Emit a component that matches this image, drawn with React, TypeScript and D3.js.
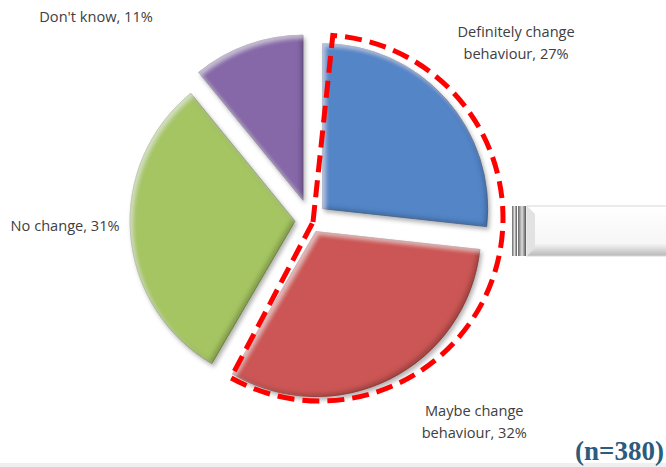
import * as d3 from "d3";
import { useEffect, useRef } from "react";

const categories = [
  "Definitely change behaviour",
  "Maybe change behaviour",
  "No change",
  "Don't know",
];
const shares = [27, 32, 31, 11];
const colors = ["#5385C7", "#CB5654", "#A5C462", "#8667A9"];
const sampleNote = "(n=380)";

interface Slice {
  label: string;
  value: number;
  color: string;
}

const App = () => {
  const ref = useRef<SVGSVGElement | null>(null);

  useEffect(() => {
    const svg = d3.select(ref.current);
    svg.selectAll("*").remove();

    const width = 666,
      height = 467;
    const cx = 310,
      cy = 220,
      radius = 165;
    // how far each slice is pulled out, and where its label sits (deg, distance)
    const explode = [17, 13, 15, 21];
    const labelPos: [number, number][] = [
      [49.5, 271],
      [141, 261],
      [268.3, 245],
      [313.3, 294],
    ];
    const lineGap = 22;

    const data: Slice[] = categories.map((c, i) => ({
      label: c,
      value: shares[i],
      color: colors[i],
    }));

    const defs = svg.append("defs");
    const f = defs
      .append("filter")
      .attr("id", "bevel")
      .attr("x", "-20%")
      .attr("y", "-20%")
      .attr("width", "140%")
      .attr("height", "140%");
    f.append("feGaussianBlur").attr("in", "SourceAlpha").attr("stdDeviation", 2).attr("result", "blur");
    f.append("feOffset").attr("in", "blur").attr("dx", -3).attr("dy", -3).attr("result", "offD");
    f.append("feComposite").attr("in", "SourceAlpha").attr("in2", "offD").attr("operator", "out").attr("result", "edgeD");
    f.append("feFlood").attr("flood-color", "#000").attr("flood-opacity", 0.4);
    f.append("feComposite").attr("in2", "edgeD").attr("operator", "in").attr("result", "shadeD");
    f.append("feOffset").attr("in", "blur").attr("dx", 3).attr("dy", 3).attr("result", "offL");
    f.append("feComposite").attr("in", "SourceAlpha").attr("in2", "offL").attr("operator", "out").attr("result", "edgeL");
    f.append("feFlood").attr("flood-color", "#fff").attr("flood-opacity", 0.45);
    f.append("feComposite").attr("in2", "edgeL").attr("operator", "in").attr("result", "shadeL");
    f.append("feGaussianBlur").attr("in", "SourceAlpha").attr("stdDeviation", 2).attr("result", "sb");
    f.append("feOffset").attr("in", "sb").attr("dx", 2).attr("dy", 3).attr("result", "so");
    f.append("feFlood").attr("flood-color", "#000").attr("flood-opacity", 0.3);
    f.append("feComposite").attr("in2", "so").attr("operator", "in").attr("result", "drop");
    const merge = f.append("feMerge");
    ["drop", "SourceGraphic", "shadeD", "shadeL"].forEach((n) => merge.append("feMergeNode").attr("in", n));

    const pie = d3
      .pie<Slice>()
      .sort(null)
      .value((d) => d.value);
    const arcs = pie(data);
    const arc = d3.arc<d3.PieArcDatum<Slice>>().innerRadius(0).outerRadius(radius);

    const g = svg.append("g").attr("transform", `translate(${cx},${cy})`);

    g.selectAll("path.slice")
      .data(arcs)
      .join("path")
      .attr("class", "slice")
      .attr("d", arc)
      .attr("fill", (d) => d.data.color)
      .attr("stroke", (d) => d3.color(d.data.color)!.darker(0.8).formatHex())
      .attr("stroke-width", 0.8)
      .attr("filter", "url(#bevel)")
      .attr("transform", (d, i) => {
        const a = (d.startAngle + d.endAngle) / 2;
        return `translate(${Math.sin(a) * explode[i]},${-Math.cos(a) * explode[i]})`;
      });

    // dashed highlight round the two "change" slices
    const hl = d3.path();
    const a0 = arcs[0].startAngle + 0.07 - Math.PI / 2;
    const a1 = arcs[1].endAngle - 0.02 - Math.PI / 2;
    hl.moveTo(3, 2);
    hl.arc(10, -2, 183, a0, a1);
    hl.closePath();
    g.append("path")
      .attr("d", hl.toString())
      .attr("fill", "none")
      .attr("stroke", "#FF0000")
      .attr("stroke-width", 5)
      .attr("stroke-dasharray", "17,8");

    // labels
    arcs.forEach((d, i) => {
      const [deg, dist] = labelPos[i];
      const a = (deg * Math.PI) / 180;
      const x = Math.sin(a) * dist;
      const y = -Math.cos(a) * dist;
      const full = `${d.data.label}, ${d.data.value}%`;
      let lines = [full];
      if (full.length > 20) {
        const k = d.data.label.lastIndexOf(" ");
        lines = [d.data.label.slice(0, k), `${d.data.label.slice(k + 1)}, ${d.data.value}%`];
      }
      const t = g
        .append("text")
        .attr("x", x)
        .attr("y", y - ((lines.length - 1) * lineGap) / 2)
        .attr("text-anchor", "middle")
        .attr("dominant-baseline", "middle")
        .attr("font-family", "Open Sans, sans-serif")
        .attr("font-size", 14.6)
        .attr("fill", "#404040");
      lines.forEach((l, j) => {
        t.append("tspan").attr("x", x).attr("dy", j === 0 ? 0 : lineGap).text(l);
      });
    });

    // cut-off grey control at right edge
    const grad = defs.append("linearGradient").attr("id", "gbar").attr("x1", 0).attr("y1", 0).attr("x2", 0).attr("y2", 1);
    grad.append("stop").attr("offset", "0%").attr("stop-color", "#ffffff");
    grad.append("stop").attr("offset", "75%").attr("stop-color", "#f6f6f6");
    grad.append("stop").attr("offset", "100%").attr("stop-color", "#b8b8b8");
    const vgrad = defs.append("linearGradient").attr("id", "vbar").attr("x1", 0).attr("y1", 0).attr("x2", 1).attr("y2", 0);
    vgrad.append("stop").attr("offset", "0%").attr("stop-color", "#666");
    vgrad.append("stop").attr("offset", "50%").attr("stop-color", "#ddd");
    vgrad.append("stop").attr("offset", "100%").attr("stop-color", "#555");
    svg.append("rect").attr("x", 512).attr("y", 206).attr("width", 5).attr("height", 50).attr("fill", "url(#vbar)");
    svg.append("rect").attr("x", 518).attr("y", 206).attr("width", 8).attr("height", 50).attr("fill", "url(#vbar)");
    svg.append("rect").attr("x", 527).attr("y", 206).attr("width", 145).attr("height", 50).attr("fill", "url(#gbar)").attr("stroke", "#d8d8d8");
    svg.append("path").attr("d", "M527,206 L535,214 L535,248 L527,256 Z").attr("fill", "#e2e2e2");

    svg.append("rect").attr("x", 0).attr("y", 463).attr("width", width).attr("height", 4).attr("fill", "#efefef");

    svg
      .append("text")
      .attr("x", 664)
      .attr("y", 460)
      .attr("text-anchor", "end")
      .attr("font-family", "Liberation Serif, serif")
      .attr("font-weight", "bold")
      .attr("font-size", 27)
      .attr("fill", "#2C5B7D")
      .text(sampleNote);

    svg.attr("height", height);
  }, []);

  return (
    <svg
      ref={ref}
      width={666}
      height={467}
      style={{ position: "absolute", left: 0, top: 0, background: "#fff" }}
    ></svg>
  );
};

export default App;
